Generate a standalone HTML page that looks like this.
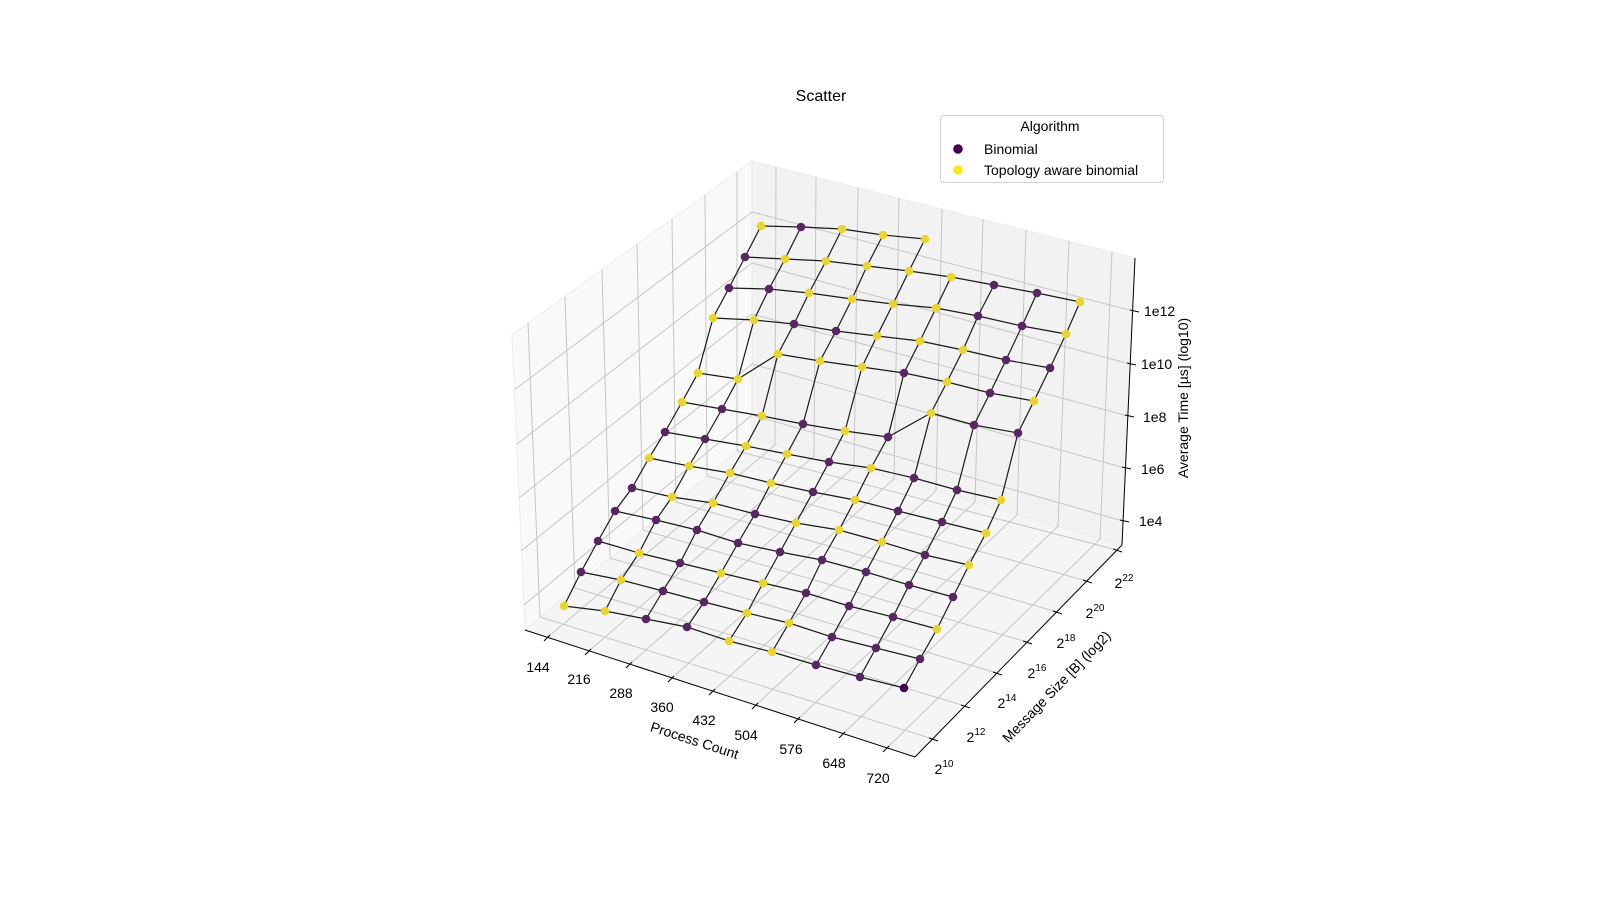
<!DOCTYPE html>
<html><head><meta charset="utf-8"><style>
html,body{margin:0;padding:0;background:#fff;}
svg{display:block;font-family:"Liberation Sans",sans-serif;}
</style></head><body>
<svg width="1600" height="900" viewBox="0 0 1600 900" xmlns="http://www.w3.org/2000/svg">
<rect width="1600" height="900" fill="#fff"/>
<!-- panes -->
<polygon points="512,335 752,161 752,438 525,630" fill="#f9f9f9" stroke="#ececec" stroke-width="1"/>
<polygon points="752,161 1135,258 1122,545 752,438" fill="#f2f2f2" stroke="#ececec" stroke-width="1"/>
<polygon points="525,630 752,438 1122,545 915,757" fill="#f5f5f5" stroke="#ececec" stroke-width="1"/>
<g stroke="#c6c6c6" stroke-width="1" fill="none">
<!-- left pane verticals -->
<line x1="528" y1="323" x2="540" y2="617"/>
<line x1="565" y1="297" x2="575" y2="588"/>
<line x1="602" y1="270" x2="610" y2="558"/>
<line x1="637" y1="244" x2="643" y2="530"/>
<line x1="672" y1="219" x2="676" y2="502"/>
<line x1="705" y1="195" x2="707" y2="476"/>
<line x1="737" y1="172" x2="737" y2="451"/>
<!-- left pane horizontals -->
<line x1="524" y1="605" x2="752" y2="415"/>
<line x1="521" y1="551" x2="752" y2="364"/>
<line x1="519" y1="498" x2="752" y2="314"/>
<line x1="517" y1="444" x2="752" y2="263"/>
<line x1="514" y1="390" x2="752" y2="212"/>
<!-- back pane verticals -->
<line x1="776" y1="167" x2="775" y2="445"/>
<line x1="816" y1="177" x2="814" y2="456"/>
<line x1="858" y1="188" x2="854" y2="467"/>
<line x1="899" y1="198" x2="894" y2="479"/>
<line x1="942" y1="209" x2="936" y2="491"/>
<line x1="983" y1="219" x2="975" y2="502"/>
<line x1="1026" y1="230" x2="1017" y2="515"/>
<line x1="1069" y1="241" x2="1058" y2="526"/>
<line x1="1112" y1="252" x2="1100" y2="539"/>
<!-- back pane horizontals -->
<line x1="752" y1="415" x2="1123" y2="521"/>
<line x1="752" y1="364" x2="1125" y2="468"/>
<line x1="752" y1="314" x2="1128" y2="416"/>
<line x1="752" y1="263" x2="1130" y2="364"/>
<line x1="752" y1="212" x2="1133" y2="311"/>
<!-- floor -->
<line x1="548" y1="637" x2="775" y2="445"/>
<line x1="589" y1="651" x2="814" y2="456"/>
<line x1="630" y1="664" x2="854" y2="467"/>
<line x1="672" y1="678" x2="894" y2="479"/>
<line x1="713" y1="691" x2="936" y2="491"/>
<line x1="756" y1="705" x2="975" y2="502"/>
<line x1="798" y1="719" x2="1017" y2="515"/>
<line x1="843" y1="734" x2="1058" y2="526"/>
<line x1="887" y1="748" x2="1100" y2="539"/>
<line x1="540" y1="617" x2="933" y2="739"/>
<line x1="575" y1="588" x2="965" y2="706"/>
<line x1="610" y1="558" x2="997" y2="673"/>
<line x1="643" y1="530" x2="1027" y2="642"/>
<line x1="676" y1="502" x2="1057" y2="612"/>
<line x1="707" y1="476" x2="1087" y2="581"/>
<line x1="737" y1="451" x2="1117" y2="550"/>
</g>
<!-- axes lines -->
<g stroke="#000" stroke-width="1" fill="none">
<line x1="525" y1="630" x2="915" y2="757"/>
<line x1="915" y1="757" x2="1122" y2="545"/>
<line x1="1122" y1="545" x2="1135" y2="258"/>
<!-- process ticks -->
<path d="M550,635 L544,641 M591,649 L585,655 M632,662 L626,668 M674,676 L668,682 M715,689 L709,695 M758,703 L752,709 M800,717 L794,723 M845,732 L839,738 M889,746 L883,752"/>
<!-- message ticks -->
<path d="M929,738 L938,741 M961,705 L970,708 M993,672 L1002,675 M1023,641 L1032,644 M1053,611 L1062,614 M1083,580 L1092,583 M1113,549 L1122,552"/>
<!-- z ticks -->
<path d="M1120,520 L1129,522 M1122,467 L1131,469 M1125,415 L1134,417 M1127,363 L1136,365 M1130,310 L1139,312"/>
</g>
<!-- tick labels -->
<g font-size="14" fill="#000" text-anchor="middle">
<text x="538" y="672">144</text>
<text x="579" y="684">216</text>
<text x="621" y="698">288</text>
<text x="662" y="712">360</text>
<text x="704" y="725">432</text>
<text x="746" y="740">504</text>
<text x="791" y="754">576</text>
<text x="834" y="768">648</text>
<text x="878" y="783">720</text>
<text x="944" y="774">2<tspan font-size="10" dy="-7">10</tspan></text>
<text x="976" y="742">2<tspan font-size="10" dy="-7">12</tspan></text>
<text x="1007" y="708">2<tspan font-size="10" dy="-7">14</tspan></text>
<text x="1037" y="678">2<tspan font-size="10" dy="-7">16</tspan></text>
<text x="1066" y="648">2<tspan font-size="10" dy="-7">18</tspan></text>
<text x="1095" y="618">2<tspan font-size="10" dy="-7">20</tspan></text>
<text x="1124" y="588">2<tspan font-size="10" dy="-7">22</tspan></text>
</g>
<g font-size="14" fill="#000">
<text x="1139" y="526">1e4</text>
<text x="1141" y="474">1e6</text>
<text x="1143" y="422">1e8</text>
<text x="1141" y="369">1e10</text>
<text x="1144" y="316">1e12</text>
</g>
<g font-size="14" fill="#000" text-anchor="middle">
<text transform="translate(693,745) rotate(18)">Process Count</text>
<text transform="translate(1060,690) rotate(-46)">Message Size [B] (log2)</text>
<text transform="translate(1188,398) rotate(-90)">Average Time [µs] (log10)</text>
<text x="821" y="101" font-size="16">Scatter</text>
</g>
<!-- legend -->
<rect x="940.5" y="115.5" width="223" height="67" rx="3" fill="#fff" fill-opacity="0.8" stroke="#d0d0d0"/>
<text x="1050" y="131" font-size="14" text-anchor="middle">Algorithm</text>
<circle cx="958" cy="149" r="4.8" fill="#440154"/>
<circle cx="958" cy="170" r="4.8" fill="#fde725"/>
<text x="984" y="154" font-size="14">Binomial</text>
<text x="984" y="175" font-size="14">Topology aware binomial</text>
<!-- wireframe -->
<g stroke="#1a1a1a" stroke-width="1.2" fill="none">
<polyline points="564,606 605,611 646,619 687,627 729,641 772,652 816,665 860,677 904,688"/>
<polyline points="581,572 621,580 663,591 704,602 747,613 789,623 832,637 876,648 920,659"/>
<polyline points="598,541 639,553 680,563 721,573 763,583 806,593 849,606 893,617 937,629"/>
<polyline points="615,511 656,520 697,530 738,543 780,552 822,560 866,572 909,585 953,597"/>
<polyline points="632,488 672,497 713,503 755,514 796,523 839,530 882,542 925,555 969,565"/>
<polyline points="649,458 689,466 730,473 771,483 813,492 855,500 898,511 942,522 986,533"/>
<polyline points="665,432 705,439 746,446 787,454 829,462 871,468 914,478 957,490 1001,500"/>
<polyline points="682,402 722,409 762,416 803,424 845,431 888,437 931,413 974,425 1018,433"/>
<polyline points="698,373 738,379 778,354 820,361 862,367 904,373 947,382 990,393 1034,401"/>
<polyline points="713,318 754,320 794,324 836,331 877,336 920,341 963,350 1006,360 1050,368"/>
<polyline points="729,288 769,289 809,293 852,299 893,304 936,308 978,316 1022,326 1066,334"/>
<polyline points="745,257 785,259 826,261 867,266 909,271 951,277 994,285 1037,293 1080,302"/>
<polyline points="761,226 801,227 842,229 883,235 925,239"/>
<polyline points="564,606 581,572 598,541 615,511 632,488 649,458 665,432 682,402 698,373 713,318 729,288 745,257 761,226"/>
<polyline points="605,611 621,580 639,553 656,520 672,497 689,466 705,439 722,409 738,379 754,320 769,289 785,259 801,227"/>
<polyline points="646,619 663,591 680,563 697,530 713,503 730,473 746,446 762,416 778,354 794,324 809,293 826,261 842,229"/>
<polyline points="687,627 704,602 721,573 738,543 755,514 771,483 787,454 803,424 820,361 836,331 852,299 867,266 883,235"/>
<polyline points="729,641 747,613 763,583 780,552 796,523 813,492 829,462 845,431 862,367 877,336 893,304 909,271 925,239"/>
<polyline points="772,652 789,623 806,593 822,560 839,530 855,500 871,468 888,437 904,373 920,341 936,308 951,277"/>
<polyline points="816,665 832,637 849,606 866,572 882,542 898,511 914,478 931,413 947,382 963,350 978,316 994,285"/>
<polyline points="860,677 876,648 893,617 909,585 925,555 942,522 957,490 974,425 990,393 1006,360 1022,326 1037,293"/>
<polyline points="904,688 920,659 937,629 953,597 969,565 986,533 1001,500 1018,433 1034,401 1050,368 1066,334 1080,302"/>
</g>
<!-- points -->
<g fill="#582660">
<circle cx="646" cy="619" r="4.3"/><circle cx="687" cy="627" r="4.3"/><circle cx="816" cy="665" r="4.3"/><circle cx="860" cy="677" r="4.3"/><circle cx="904" cy="688" r="4.3" fill="#440154"/>
<circle cx="581" cy="572" r="4.3"/><circle cx="663" cy="591" r="4.3"/><circle cx="704" cy="602" r="4.3"/><circle cx="832" cy="637" r="4.3"/><circle cx="876" cy="648" r="4.3"/><circle cx="920" cy="659" r="4.3"/>
<circle cx="598" cy="541" r="4.3"/><circle cx="680" cy="563" r="4.3"/><circle cx="806" cy="593" r="4.3"/><circle cx="849" cy="606" r="4.3"/><circle cx="893" cy="617" r="4.3"/>
<circle cx="615" cy="511" r="4.3"/><circle cx="656" cy="520" r="4.3"/><circle cx="697" cy="530" r="4.3"/><circle cx="738" cy="543" r="4.3"/><circle cx="780" cy="552" r="4.3"/><circle cx="822" cy="560" r="4.3"/><circle cx="866" cy="572" r="4.3"/><circle cx="909" cy="585" r="4.3"/><circle cx="953" cy="597" r="4.3"/>
<circle cx="632" cy="488" r="4.3"/><circle cx="755" cy="514" r="4.3"/><circle cx="925" cy="555" r="4.3"/>
<circle cx="813" cy="492" r="4.3"/><circle cx="898" cy="511" r="4.3"/><circle cx="942" cy="522" r="4.3"/>
<circle cx="665" cy="432" r="4.3"/><circle cx="705" cy="439" r="4.3"/><circle cx="829" cy="462" r="4.3"/><circle cx="914" cy="478" r="4.3"/><circle cx="957" cy="490" r="4.3"/>
<circle cx="722" cy="409" r="4.3"/><circle cx="803" cy="424" r="4.3"/><circle cx="888" cy="437" r="4.3"/><circle cx="974" cy="425" r="4.3"/><circle cx="1018" cy="433" r="4.3"/>
<circle cx="904" cy="373" r="4.3"/><circle cx="990" cy="393" r="4.3"/>
<circle cx="794" cy="324" r="4.3"/><circle cx="836" cy="331" r="4.3"/><circle cx="1006" cy="360" r="4.3"/><circle cx="1050" cy="368" r="4.3"/>
<circle cx="729" cy="288" r="4.3"/><circle cx="769" cy="289" r="4.3"/><circle cx="978" cy="316" r="4.3"/><circle cx="1022" cy="326" r="4.3"/>
<circle cx="745" cy="257" r="4.3"/><circle cx="994" cy="285" r="4.3"/><circle cx="1037" cy="293" r="4.3"/>
<circle cx="801" cy="227" r="4.3"/>
</g>
<g fill="#e8d52e">
<circle cx="564" cy="606" r="4.3"/><circle cx="605" cy="611" r="4.3"/><circle cx="729" cy="641" r="4.3"/><circle cx="772" cy="652" r="4.3"/>
<circle cx="621" cy="580" r="4.3"/><circle cx="747" cy="613" r="4.3"/><circle cx="789" cy="623" r="4.3"/>
<circle cx="639" cy="553" r="4.3"/><circle cx="721" cy="573" r="4.3"/><circle cx="763" cy="583" r="4.3"/><circle cx="937" cy="629" r="4.3"/>
<circle cx="672" cy="497" r="4.3"/><circle cx="713" cy="503" r="4.3"/><circle cx="796" cy="523" r="4.3"/><circle cx="839" cy="530" r="4.3"/><circle cx="882" cy="542" r="4.3"/><circle cx="969" cy="565" r="4.3"/>
<circle cx="649" cy="458" r="4.3"/><circle cx="689" cy="466" r="4.3"/><circle cx="730" cy="473" r="4.3"/><circle cx="771" cy="483" r="4.3"/><circle cx="855" cy="500" r="4.3"/><circle cx="986" cy="533" r="4.3"/>
<circle cx="746" cy="446" r="4.3"/><circle cx="787" cy="454" r="4.3"/><circle cx="871" cy="468" r="4.3"/><circle cx="1001" cy="500" r="4.3"/>
<circle cx="682" cy="402" r="4.3"/><circle cx="762" cy="416" r="4.3"/><circle cx="845" cy="431" r="4.3"/><circle cx="931" cy="413" r="4.3"/>
<circle cx="698" cy="373" r="4.3"/><circle cx="738" cy="379" r="4.3"/><circle cx="778" cy="354" r="4.3"/><circle cx="820" cy="361" r="4.3"/><circle cx="862" cy="367" r="4.3"/><circle cx="947" cy="382" r="4.3"/><circle cx="1034" cy="401" r="4.3"/>
<circle cx="713" cy="318" r="4.3"/><circle cx="754" cy="320" r="4.3"/><circle cx="877" cy="336" r="4.3"/><circle cx="920" cy="341" r="4.3"/><circle cx="963" cy="350" r="4.3"/>
<circle cx="809" cy="293" r="4.3"/><circle cx="852" cy="299" r="4.3"/><circle cx="893" cy="304" r="4.3"/><circle cx="936" cy="308" r="4.3"/><circle cx="1066" cy="334" r="4.3"/>
<circle cx="785" cy="259" r="4.3"/><circle cx="826" cy="261" r="4.3"/><circle cx="867" cy="266" r="4.3"/><circle cx="909" cy="271" r="4.3"/><circle cx="951" cy="277" r="4.3"/><circle cx="1080" cy="302" r="4.3"/>
<circle cx="761" cy="226" r="4.3"/><circle cx="842" cy="229" r="4.3"/><circle cx="883" cy="235" r="4.3"/><circle cx="925" cy="239" r="4.3"/>
</g>
</svg>
</body></html>
